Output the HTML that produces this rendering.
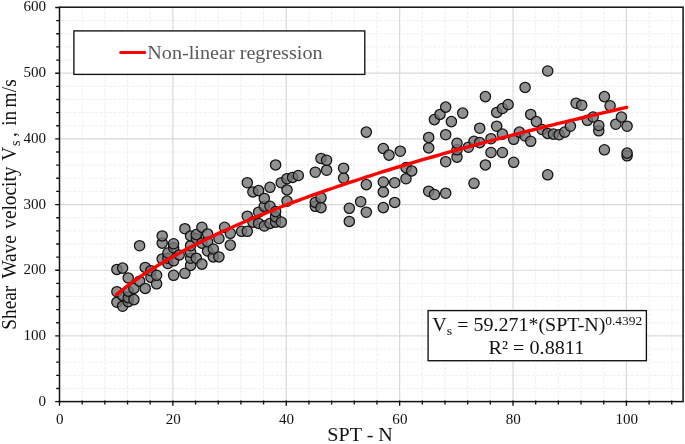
<!DOCTYPE html>
<html><head><meta charset="utf-8"><title>Shear wave velocity vs SPT-N</title>
<style>html,body{margin:0;padding:0;background:#fff}body{width:685px;height:444px;overflow:hidden}</style></head>
<body>
<svg width="685" height="444" viewBox="0 0 685 444" style="display:block">
<rect width="685" height="444" fill="#fff"/>
<path d="M82.18 7.2V401.6M104.85 7.2V401.6M127.53 7.2V401.6M150.20 7.2V401.6M195.56 7.2V401.6M218.23 7.2V401.6M240.91 7.2V401.6M263.58 7.2V401.6M308.94 7.2V401.6M331.61 7.2V401.6M354.29 7.2V401.6M376.96 7.2V401.6M422.32 7.2V401.6M444.99 7.2V401.6M467.67 7.2V401.6M490.34 7.2V401.6M535.70 7.2V401.6M558.37 7.2V401.6M581.05 7.2V401.6M603.72 7.2V401.6M649.08 7.2V401.6M671.75 7.2V401.6M59.5 388.46H683.1M59.5 375.33H683.1M59.5 362.19H683.1M59.5 349.06H683.1M59.5 322.78H683.1M59.5 309.65H683.1M59.5 296.51H683.1M59.5 283.38H683.1M59.5 257.10H683.1M59.5 243.97H683.1M59.5 230.83H683.1M59.5 217.70H683.1M59.5 191.42H683.1M59.5 178.29H683.1M59.5 165.15H683.1M59.5 152.02H683.1M59.5 125.74H683.1M59.5 112.61H683.1M59.5 99.47H683.1M59.5 86.34H683.1M59.5 60.06H683.1M59.5 46.93H683.1M59.5 33.79H683.1M59.5 20.66H683.1" stroke="#efefef" stroke-width="1" stroke-dasharray="3 1.5" fill="none"/>
<path d="M172.88 7.2V401.6M286.26 7.2V401.6M399.64 7.2V401.6M513.02 7.2V401.6M626.40 7.2V401.6M59.5 335.92H683.1M59.5 270.24H683.1M59.5 204.56H683.1M59.5 138.88H683.1M59.5 73.20H683.1" stroke="#d9d9d9" stroke-width="1.2" fill="none"/>
<path d="M59.50 400.40000000000003V405.8M82.18 400.40000000000003V404.40000000000003M104.85 400.40000000000003V404.40000000000003M127.53 400.40000000000003V404.40000000000003M150.20 400.40000000000003V404.40000000000003M172.88 400.40000000000003V405.8M195.56 400.40000000000003V404.40000000000003M218.23 400.40000000000003V404.40000000000003M240.91 400.40000000000003V404.40000000000003M263.58 400.40000000000003V404.40000000000003M286.26 400.40000000000003V405.8M308.94 400.40000000000003V404.40000000000003M331.61 400.40000000000003V404.40000000000003M354.29 400.40000000000003V404.40000000000003M376.96 400.40000000000003V404.40000000000003M399.64 400.40000000000003V405.8M422.32 400.40000000000003V404.40000000000003M444.99 400.40000000000003V404.40000000000003M467.67 400.40000000000003V404.40000000000003M490.34 400.40000000000003V404.40000000000003M513.02 400.40000000000003V405.8M535.70 400.40000000000003V404.40000000000003M558.37 400.40000000000003V404.40000000000003M581.05 400.40000000000003V404.40000000000003M603.72 400.40000000000003V404.40000000000003M626.40 400.40000000000003V405.8M649.08 400.40000000000003V404.40000000000003M671.75 400.40000000000003V404.40000000000003M55.2 401.60H59.5M56.2 388.46H59.5M56.2 375.33H59.5M56.2 362.19H59.5M56.2 349.06H59.5M55.2 335.92H59.5M56.2 322.78H59.5M56.2 309.65H59.5M56.2 296.51H59.5M56.2 283.38H59.5M55.2 270.24H59.5M56.2 257.10H59.5M56.2 243.97H59.5M56.2 230.83H59.5M56.2 217.70H59.5M55.2 204.56H59.5M56.2 191.42H59.5M56.2 178.29H59.5M56.2 165.15H59.5M56.2 152.02H59.5M55.2 138.88H59.5M56.2 125.74H59.5M56.2 112.61H59.5M56.2 99.47H59.5M56.2 86.34H59.5M55.2 73.20H59.5M56.2 60.06H59.5M56.2 46.93H59.5M56.2 33.79H59.5M56.2 20.66H59.5M55.2 7.52H59.5" stroke="#111" stroke-width="1.35" fill="none"/>
<g fill="#767676" fill-opacity="0.8" stroke="#111" stroke-width="1.25">
<circle cx="116.9" cy="302.2" r="5.15"/>
<circle cx="116.9" cy="291.7" r="5.15"/>
<circle cx="116.9" cy="269.4" r="5.15"/>
<circle cx="122.6" cy="306.2" r="5.15"/>
<circle cx="122.6" cy="295.6" r="5.15"/>
<circle cx="122.6" cy="268.1" r="5.15"/>
<circle cx="128.2" cy="301.6" r="5.15"/>
<circle cx="128.2" cy="297.6" r="5.15"/>
<circle cx="128.2" cy="291.1" r="5.15"/>
<circle cx="128.2" cy="277.9" r="5.15"/>
<circle cx="133.9" cy="299.6" r="5.15"/>
<circle cx="133.9" cy="288.4" r="5.15"/>
<circle cx="139.6" cy="281.2" r="5.15"/>
<circle cx="139.6" cy="245.7" r="5.15"/>
<circle cx="145.2" cy="288.4" r="5.15"/>
<circle cx="145.2" cy="267.4" r="5.15"/>
<circle cx="150.9" cy="277.3" r="5.15"/>
<circle cx="150.9" cy="270.7" r="5.15"/>
<circle cx="156.6" cy="283.8" r="5.15"/>
<circle cx="156.6" cy="275.3" r="5.15"/>
<circle cx="162.2" cy="258.9" r="5.15"/>
<circle cx="162.2" cy="243.1" r="5.15"/>
<circle cx="162.2" cy="235.9" r="5.15"/>
<circle cx="167.9" cy="263.5" r="5.15"/>
<circle cx="167.9" cy="258.2" r="5.15"/>
<circle cx="167.9" cy="253.0" r="5.15"/>
<circle cx="173.6" cy="275.3" r="5.15"/>
<circle cx="173.6" cy="260.8" r="5.15"/>
<circle cx="173.6" cy="247.7" r="5.15"/>
<circle cx="173.6" cy="243.8" r="5.15"/>
<circle cx="179.2" cy="254.9" r="5.15"/>
<circle cx="184.9" cy="273.3" r="5.15"/>
<circle cx="184.9" cy="228.7" r="5.15"/>
<circle cx="190.6" cy="265.4" r="5.15"/>
<circle cx="190.6" cy="258.2" r="5.15"/>
<circle cx="190.6" cy="252.3" r="5.15"/>
<circle cx="190.6" cy="245.7" r="5.15"/>
<circle cx="190.6" cy="235.9" r="5.15"/>
<circle cx="196.3" cy="258.2" r="5.15"/>
<circle cx="196.3" cy="238.5" r="5.15"/>
<circle cx="196.3" cy="234.6" r="5.15"/>
<circle cx="201.9" cy="264.1" r="5.15"/>
<circle cx="201.9" cy="243.1" r="5.15"/>
<circle cx="201.9" cy="227.3" r="5.15"/>
<circle cx="207.6" cy="251.0" r="5.15"/>
<circle cx="207.6" cy="241.8" r="5.15"/>
<circle cx="207.6" cy="233.9" r="5.15"/>
<circle cx="213.3" cy="256.9" r="5.15"/>
<circle cx="213.3" cy="249.0" r="5.15"/>
<circle cx="218.9" cy="256.9" r="5.15"/>
<circle cx="218.9" cy="238.5" r="5.15"/>
<circle cx="224.6" cy="227.3" r="5.15"/>
<circle cx="230.3" cy="245.1" r="5.15"/>
<circle cx="230.3" cy="233.3" r="5.15"/>
<circle cx="241.6" cy="231.3" r="5.15"/>
<circle cx="247.3" cy="231.3" r="5.15"/>
<circle cx="247.3" cy="216.2" r="5.15"/>
<circle cx="247.3" cy="182.7" r="5.15"/>
<circle cx="252.9" cy="222.1" r="5.15"/>
<circle cx="252.9" cy="191.9" r="5.15"/>
<circle cx="258.6" cy="223.4" r="5.15"/>
<circle cx="258.6" cy="212.2" r="5.15"/>
<circle cx="258.6" cy="190.6" r="5.15"/>
<circle cx="264.3" cy="226.0" r="5.15"/>
<circle cx="264.3" cy="206.3" r="5.15"/>
<circle cx="264.3" cy="198.4" r="5.15"/>
<circle cx="270.0" cy="223.4" r="5.15"/>
<circle cx="270.0" cy="206.3" r="5.15"/>
<circle cx="270.0" cy="187.3" r="5.15"/>
<circle cx="275.6" cy="222.1" r="5.15"/>
<circle cx="275.6" cy="216.8" r="5.15"/>
<circle cx="275.6" cy="211.6" r="5.15"/>
<circle cx="275.6" cy="164.9" r="5.15"/>
<circle cx="281.3" cy="222.1" r="5.15"/>
<circle cx="281.3" cy="182.7" r="5.15"/>
<circle cx="287.0" cy="201.1" r="5.15"/>
<circle cx="287.0" cy="189.9" r="5.15"/>
<circle cx="287.0" cy="178.7" r="5.15"/>
<circle cx="292.6" cy="177.4" r="5.15"/>
<circle cx="298.3" cy="175.5" r="5.15"/>
<circle cx="315.3" cy="206.3" r="5.15"/>
<circle cx="315.3" cy="202.4" r="5.15"/>
<circle cx="315.3" cy="172.2" r="5.15"/>
<circle cx="321.0" cy="207.6" r="5.15"/>
<circle cx="321.0" cy="197.8" r="5.15"/>
<circle cx="321.0" cy="158.4" r="5.15"/>
<circle cx="326.6" cy="170.2" r="5.15"/>
<circle cx="326.6" cy="160.3" r="5.15"/>
<circle cx="343.6" cy="178.1" r="5.15"/>
<circle cx="343.6" cy="168.2" r="5.15"/>
<circle cx="349.3" cy="221.4" r="5.15"/>
<circle cx="349.3" cy="208.3" r="5.15"/>
<circle cx="360.7" cy="201.7" r="5.15"/>
<circle cx="366.3" cy="212.2" r="5.15"/>
<circle cx="366.3" cy="184.6" r="5.15"/>
<circle cx="366.3" cy="132.1" r="5.15"/>
<circle cx="383.3" cy="207.6" r="5.15"/>
<circle cx="383.3" cy="191.9" r="5.15"/>
<circle cx="383.3" cy="182.0" r="5.15"/>
<circle cx="383.3" cy="148.5" r="5.15"/>
<circle cx="389.0" cy="155.1" r="5.15"/>
<circle cx="394.7" cy="202.4" r="5.15"/>
<circle cx="394.7" cy="182.7" r="5.15"/>
<circle cx="400.3" cy="151.2" r="5.15"/>
<circle cx="406.0" cy="178.7" r="5.15"/>
<circle cx="406.0" cy="167.6" r="5.15"/>
<circle cx="411.7" cy="170.9" r="5.15"/>
<circle cx="428.7" cy="191.2" r="5.15"/>
<circle cx="428.7" cy="147.9" r="5.15"/>
<circle cx="428.7" cy="137.4" r="5.15"/>
<circle cx="434.4" cy="194.5" r="5.15"/>
<circle cx="434.4" cy="119.6" r="5.15"/>
<circle cx="440.0" cy="114.4" r="5.15"/>
<circle cx="445.7" cy="193.2" r="5.15"/>
<circle cx="445.7" cy="161.7" r="5.15"/>
<circle cx="445.7" cy="134.7" r="5.15"/>
<circle cx="445.7" cy="107.1" r="5.15"/>
<circle cx="451.4" cy="121.6" r="5.15"/>
<circle cx="457.0" cy="157.1" r="5.15"/>
<circle cx="457.0" cy="149.8" r="5.15"/>
<circle cx="457.0" cy="143.3" r="5.15"/>
<circle cx="462.7" cy="113.1" r="5.15"/>
<circle cx="468.4" cy="147.2" r="5.15"/>
<circle cx="474.0" cy="183.3" r="5.15"/>
<circle cx="474.0" cy="141.3" r="5.15"/>
<circle cx="479.7" cy="142.6" r="5.15"/>
<circle cx="479.7" cy="128.2" r="5.15"/>
<circle cx="485.4" cy="164.9" r="5.15"/>
<circle cx="485.4" cy="96.6" r="5.15"/>
<circle cx="491.0" cy="152.5" r="5.15"/>
<circle cx="491.0" cy="138.7" r="5.15"/>
<circle cx="496.7" cy="126.2" r="5.15"/>
<circle cx="496.7" cy="112.4" r="5.15"/>
<circle cx="502.4" cy="152.5" r="5.15"/>
<circle cx="502.4" cy="134.1" r="5.15"/>
<circle cx="502.4" cy="108.5" r="5.15"/>
<circle cx="508.1" cy="104.5" r="5.15"/>
<circle cx="513.7" cy="162.3" r="5.15"/>
<circle cx="513.7" cy="139.3" r="5.15"/>
<circle cx="519.4" cy="132.1" r="5.15"/>
<circle cx="525.1" cy="136.0" r="5.15"/>
<circle cx="525.1" cy="87.4" r="5.15"/>
<circle cx="530.7" cy="141.3" r="5.15"/>
<circle cx="530.7" cy="114.4" r="5.15"/>
<circle cx="536.4" cy="121.6" r="5.15"/>
<circle cx="542.1" cy="129.5" r="5.15"/>
<circle cx="547.7" cy="174.8" r="5.15"/>
<circle cx="547.7" cy="133.4" r="5.15"/>
<circle cx="547.7" cy="71.0" r="5.15"/>
<circle cx="553.4" cy="134.1" r="5.15"/>
<circle cx="559.1" cy="134.7" r="5.15"/>
<circle cx="564.7" cy="132.1" r="5.15"/>
<circle cx="570.4" cy="126.2" r="5.15"/>
<circle cx="576.1" cy="103.2" r="5.15"/>
<circle cx="581.7" cy="105.2" r="5.15"/>
<circle cx="587.4" cy="120.3" r="5.15"/>
<circle cx="593.1" cy="117.0" r="5.15"/>
<circle cx="598.8" cy="130.8" r="5.15"/>
<circle cx="598.8" cy="125.5" r="5.15"/>
<circle cx="604.4" cy="149.8" r="5.15"/>
<circle cx="604.4" cy="96.6" r="5.15"/>
<circle cx="610.1" cy="105.8" r="5.15"/>
<circle cx="615.8" cy="124.2" r="5.15"/>
<circle cx="621.4" cy="117.0" r="5.15"/>
<circle cx="627.1" cy="155.8" r="5.15"/>
<circle cx="627.1" cy="153.1" r="5.15"/>
<circle cx="627.1" cy="126.2" r="5.15"/>
</g>
<path d="M116.5 294.6L122.2 290.0L127.8 285.7L133.5 281.5L139.2 277.5L144.8 273.7L150.5 270.0L156.2 266.5L161.8 263.1L167.5 259.7L173.2 256.5L178.8 253.4L184.5 250.3L190.2 247.3L195.9 244.4L201.5 241.6L207.2 238.8L212.9 236.0L218.5 233.4L224.2 230.8L229.9 228.2L235.5 225.7L241.2 223.2L246.9 220.8L252.5 218.4L258.2 216.1L263.9 213.8L269.6 211.5L275.2 209.2L280.9 207.0L286.6 204.9L292.2 202.7L297.9 200.6L303.6 198.5L309.2 196.4L314.9 194.4L320.6 192.4L326.2 190.4L331.9 188.5L337.6 186.5L343.2 184.6L348.9 182.7L354.6 180.8L360.3 179.0L365.9 177.1L371.6 175.3L377.3 173.5L382.9 171.7L388.6 170.0L394.3 168.2L399.9 166.5L405.6 164.8L411.3 163.1L416.9 161.4L422.6 159.7L428.3 158.1L434.0 156.5L439.6 154.8L445.3 153.2L451.0 151.6L456.6 150.0L462.3 148.5L468.0 146.9L473.6 145.4L479.3 143.8L485.0 142.3L490.6 140.8L496.3 139.3L502.0 137.8L507.7 136.3L513.3 134.8L519.0 133.4L524.7 131.9L530.3 130.5L536.0 129.1L541.7 127.6L547.3 126.2L553.0 124.8L558.7 123.4L564.3 122.1L570.0 120.7L575.7 119.3L581.3 118.0L587.0 116.6L592.7 115.3L598.4 113.9L604.0 112.6L609.7 111.3L615.4 110.0L621.0 108.7L626.7 107.4" stroke="#f00" stroke-width="3.4" fill="none" stroke-linecap="round" stroke-linejoin="round"/>
<rect x="59.5" y="7.2" width="623.6" height="394.40000000000003" fill="none" stroke="#111" stroke-width="1.5"/>
<rect x="73.9" y="30.9" width="290.9" height="43.5" fill="#fff" stroke="#111" stroke-width="1.35"/>
<path d="M120.8 52.5H144.7" stroke="#f00" stroke-width="3.2" stroke-linecap="round"/>
<text transform="translate(147.3 59) scale(1.035 1)" font-family="'Liberation Serif', 'Times New Roman', serif" font-size="19.5" fill="#595959">Non-linear regression</text>
<rect x="428.1" y="310.6" width="218.3" height="50.1" fill="#fff" stroke="#111" stroke-width="1.35"/>
<text transform="translate(432.3 331.1) scale(1.036 1)" font-family="'Liberation Serif', 'Times New Roman', serif" font-size="19.3" fill="#111">V<tspan font-size="13.5" dy="4">s</tspan><tspan dy="-4"> = 59.271*(SPT-N)</tspan><tspan font-size="13" dy="-6.3" dx="-0.2">0.4392</tspan></text>
<text transform="translate(536.4 353.7) scale(1.046 1)" font-family="'Liberation Serif', 'Times New Roman', serif" font-size="19.3" fill="#111" text-anchor="middle">R² = 0.8811</text>
<text transform="translate(59.8 424.2) scale(1.035 1)" font-family="'Liberation Serif', 'Times New Roman', serif" font-size="14.6" fill="#111" text-anchor="middle">0</text>
<text transform="translate(173.2 424.2) scale(1.035 1)" font-family="'Liberation Serif', 'Times New Roman', serif" font-size="14.6" fill="#111" text-anchor="middle">20</text>
<text transform="translate(286.6 424.2) scale(1.035 1)" font-family="'Liberation Serif', 'Times New Roman', serif" font-size="14.6" fill="#111" text-anchor="middle">40</text>
<text transform="translate(399.9 424.2) scale(1.035 1)" font-family="'Liberation Serif', 'Times New Roman', serif" font-size="14.6" fill="#111" text-anchor="middle">60</text>
<text transform="translate(513.3 424.2) scale(1.035 1)" font-family="'Liberation Serif', 'Times New Roman', serif" font-size="14.6" fill="#111" text-anchor="middle">80</text>
<text transform="translate(626.7 424.2) scale(1.035 1)" font-family="'Liberation Serif', 'Times New Roman', serif" font-size="14.6" fill="#111" text-anchor="middle">100</text>
<text transform="translate(46.1 405.5) scale(1.035 1)" font-family="'Liberation Serif', 'Times New Roman', serif" font-size="14.6" fill="#111" text-anchor="end">0</text>
<text transform="translate(46.1 339.8) scale(1.035 1)" font-family="'Liberation Serif', 'Times New Roman', serif" font-size="14.6" fill="#111" text-anchor="end">100</text>
<text transform="translate(46.1 274.1) scale(1.035 1)" font-family="'Liberation Serif', 'Times New Roman', serif" font-size="14.6" fill="#111" text-anchor="end">200</text>
<text transform="translate(46.1 208.5) scale(1.035 1)" font-family="'Liberation Serif', 'Times New Roman', serif" font-size="14.6" fill="#111" text-anchor="end">300</text>
<text transform="translate(46.1 142.8) scale(1.035 1)" font-family="'Liberation Serif', 'Times New Roman', serif" font-size="14.6" fill="#111" text-anchor="end">400</text>
<text transform="translate(46.1 77.1) scale(1.035 1)" font-family="'Liberation Serif', 'Times New Roman', serif" font-size="14.6" fill="#111" text-anchor="end">500</text>
<text transform="translate(46.1 11.4) scale(1.035 1)" font-family="'Liberation Serif', 'Times New Roman', serif" font-size="14.6" fill="#111" text-anchor="end">600</text>
<text transform="translate(360.1 441) scale(1.015 1)" font-family="'Liberation Serif', 'Times New Roman', serif" font-size="19.8" fill="#111" text-anchor="middle">SPT - N</text>
<text transform="translate(16.4 329.7) rotate(-90) scale(0.965 1)" font-family="'Liberation Serif', 'Times New Roman', serif" font-size="20" fill="#111">Shear <tspan x="52.95">Wave </tspan><tspan x="104.66">velocity </tspan><tspan x="175.03">V</tspan><tspan x="190.36" font-size="14.5" dy="4">s </tspan><tspan x="199.69" dy="-4">, </tspan><tspan x="211.30">in </tspan><tspan x="230.26" letter-spacing="0.25">m/s</tspan></text>
</svg>
</body></html>
